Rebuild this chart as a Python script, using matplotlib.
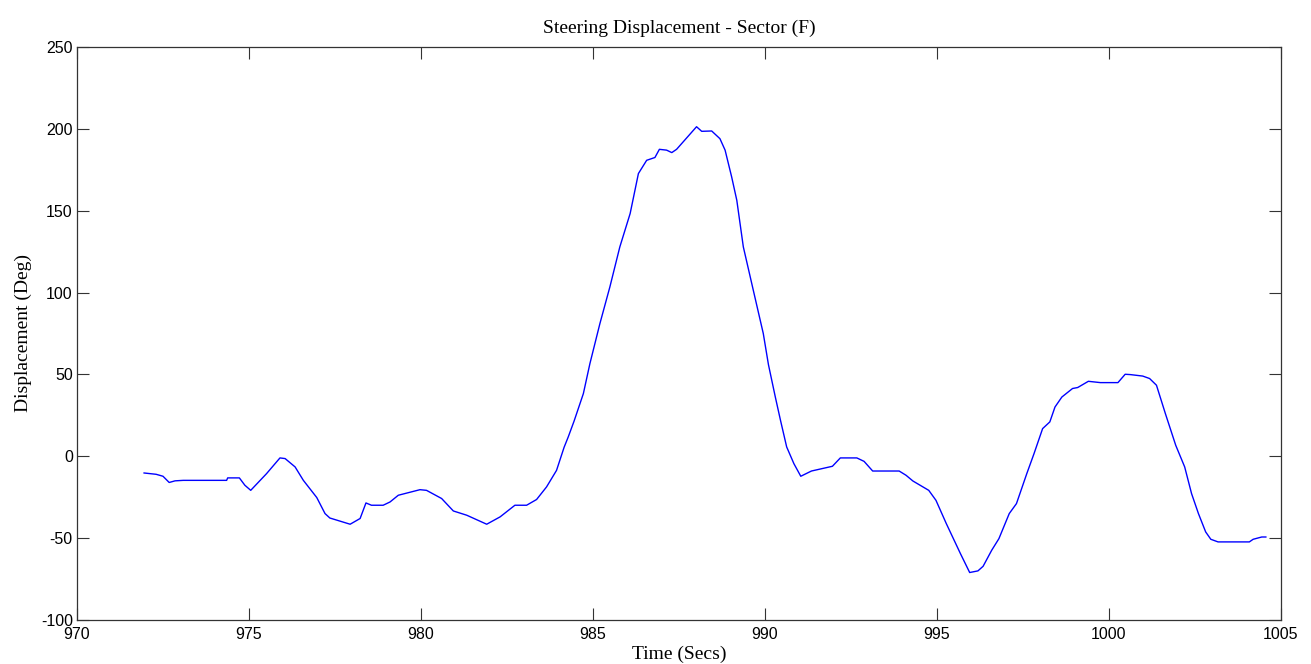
import matplotlib
matplotlib.use("Agg")
import matplotlib.pyplot as plt

plt.rcParams['axes.unicode_minus'] = False

time_s = [971.95, 972.3, 972.5, 972.68, 972.85, 973.09, 974.35, 974.38, 974.72, 974.88,
          975.05, 975.51, 975.9, 976.05, 976.34, 976.58, 976.97, 977.21, 977.35, 977.94,
          978.23, 978.4, 978.56, 978.9, 979.1, 979.34, 979.97, 980.16, 980.6, 980.94,
          981.33, 981.91, 982.3, 982.73, 983.07, 983.36, 983.65, 983.94, 984.16, 984.28,
          984.45, 984.72, 984.91, 985.2, 985.49, 985.78, 986.08, 986.32, 986.56, 986.8,
          986.93, 987.14, 987.29, 987.43, 988.01, 988.16, 988.45, 988.69, 988.84, 989.03,
          989.18, 989.37, 989.66, 989.95, 990.1, 990.3, 990.45, 990.63, 990.84, 991.04,
          991.35, 991.96, 992.19, 992.67, 992.88, 993.13, 993.9, 994.1, 994.3, 994.76,
          994.97, 995.27, 995.68, 995.95, 996.19, 996.34, 996.59, 996.8, 997.1, 997.31,
          997.61, 997.82, 998.07, 998.28, 998.43, 998.63, 998.94, 999.09, 999.4, 999.75,
          1000.26, 1000.47, 1000.62, 1000.98, 1001.18, 1001.38, 1001.64, 1001.94, 1002.2, 1002.4,
          1002.6, 1002.81, 1002.96, 1003.17, 1004.08, 1004.19, 1004.44, 1004.56]
displacement = [-10.2, -11.0, -12.2, -16.0, -15.0, -14.7, -14.7, -13.2, -13.2, -17.7,
                -20.8, -10.6, -1.0, -1.4, -6.5, -14.7, -25.2, -35.0, -37.7, -41.5,
                -38.0, -28.5, -29.9, -29.9, -27.9, -23.8, -20.4, -20.8, -25.8, -33.4,
                -36.0, -41.5, -37.0, -29.9, -29.9, -26.4, -18.7, -8.6, 5.5, 11.8,
                21.5, 38.3, 56.6, 81.0, 103.4, 127.9, 148.3, 172.7, 180.8, 182.5,
                187.5, 187.0, 185.5, 187.5, 201.3, 198.5, 198.7, 194.0, 187.0, 170.7,
                156.4, 127.9, 101.4, 75.0, 56.0, 36.2, 22.0, 5.7, -4.5, -12.2,
                -9.0, -6.1, -1.0, -1.0, -3.1, -9.0, -9.0, -11.6, -15.1, -20.8,
                -26.9, -41.1, -59.4, -71.0, -70.0, -67.2, -57.4, -50.3, -35.0, -28.9,
                -10.6, 1.6, 16.9, 21.0, 30.1, 36.2, 41.4, 42.0, 45.8, 45.0,
                45.0, 50.1, 49.9, 49.0, 47.5, 43.4, 26.0, 6.7, -6.5, -22.8,
                -35.0, -46.2, -50.7, -52.3, -52.3, -50.7, -49.3, -49.3]

x_ticks = [970, 975, 980, 985, 990, 995, 1000, 1005]
y_ticks = [-100, -50, 0, 50, 100, 150, 200, 250]

fig = plt.figure(figsize=(13.11, 6.64), dpi=100)
ax = fig.add_axes([77/1311, 44/664, (1281-77)/1311, (620-47)/664])
ax.plot(time_s, displacement, color=(0, 0, 1), linewidth=1.0)

ax.set_xlim(970, 1005)
ax.set_ylim(-100, 250)
ax.set_xticks(x_ticks)
ax.set_yticks(y_ticks)
ax.tick_params(direction='in', length=8.5, width=0.8, top=True, right=True,
               labelsize=11.5, color='#333333')
ax.tick_params(axis='x', pad=5)
ax.tick_params(axis='y', pad=3)
for lab in ax.get_xticklabels() + ax.get_yticklabels():
    lab.set_fontfamily('Liberation Sans')
for s in ax.spines.values():
    s.set_color('#333333')
    s.set_linewidth(0.9)

ax.set_title('Steering Displacement - Sector (F)', fontfamily='Liberation Serif',
             fontsize=14, pad=10)
ax.set_xlabel('Time (Secs)', fontfamily='Liberation Serif', fontsize=14, labelpad=3)
ax.set_ylabel('Displacement (Deg)', fontfamily='Liberation Serif', fontsize=14, labelpad=6)

fig.savefig('out.png', dpi=100)
